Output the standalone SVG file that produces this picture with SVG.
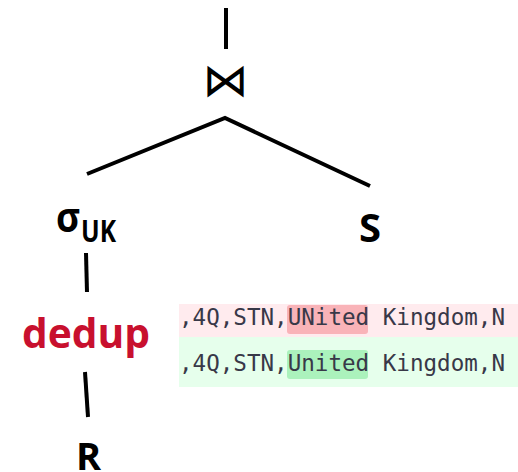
<svg xmlns="http://www.w3.org/2000/svg" width="518" height="472" viewBox="0 0 518 472">
<style>
.ln{stroke:#000;stroke-width:4;fill:none;stroke-linecap:butt}
.lbl{font-family:"Open Sans","Noto Sans","DejaVu Sans",sans-serif;font-weight:bold;fill:#000}
.code{font-family:"DejaVu Sans Mono","Liberation Mono",monospace;font-size:22.5px;fill:#383848}
</style>
<rect width="518" height="472" fill="#fff"/>
<g id="connectors">
<line class="ln" x1="226" y1="8" x2="226" y2="49"/>
<polyline class="ln" points="87,174 225,118 370,186"/>
<line class="ln" x1="86" y1="253" x2="87" y2="292"/>
<line class="ln" x1="85" y1="372" x2="88" y2="417"/>
</g>
<g id="join">
<text x="225.5" y="96" font-family="DejaVu Sans,sans-serif" font-size="46" text-anchor="middle" fill="#000">⋈</text>
</g>
<g id="sigma">
<text class="lbl" x="56" y="232" font-size="42" textLength="24" lengthAdjust="spacingAndGlyphs">σ</text>
<text class="lbl" x="81" y="242" font-size="30" textLength="35" lengthAdjust="spacingAndGlyphs">UK</text>
</g>
<g id="S">
<text class="lbl" x="359" y="242" font-size="40">S</text>
</g>
<g id="dedup">
<text class="lbl" x="22" y="348" font-size="42" style="fill:#c8102e" textLength="128" lengthAdjust="spacingAndGlyphs">dedup</text>
</g>
<g id="R">
<text class="lbl" x="76" y="470" font-size="38">R</text>
</g>
<g id="diff">
<rect x="179" y="304" width="339" height="33" fill="#ffebee"/>
<rect x="179" y="337" width="339" height="50" fill="#e6ffec"/>
<rect x="287" y="305" width="81" height="29" rx="3" fill="#f9b3b8"/>
<rect x="287" y="350" width="81" height="29" rx="3" fill="#abf2bc"/>
<text class="code" x="179" y="325" textLength="326" lengthAdjust="spacingAndGlyphs">,4Q,STN,UNited Kingdom,N</text>
<text class="code" x="179" y="371" textLength="326" lengthAdjust="spacingAndGlyphs">,4Q,STN,United Kingdom,N</text>
</g>
</svg>
